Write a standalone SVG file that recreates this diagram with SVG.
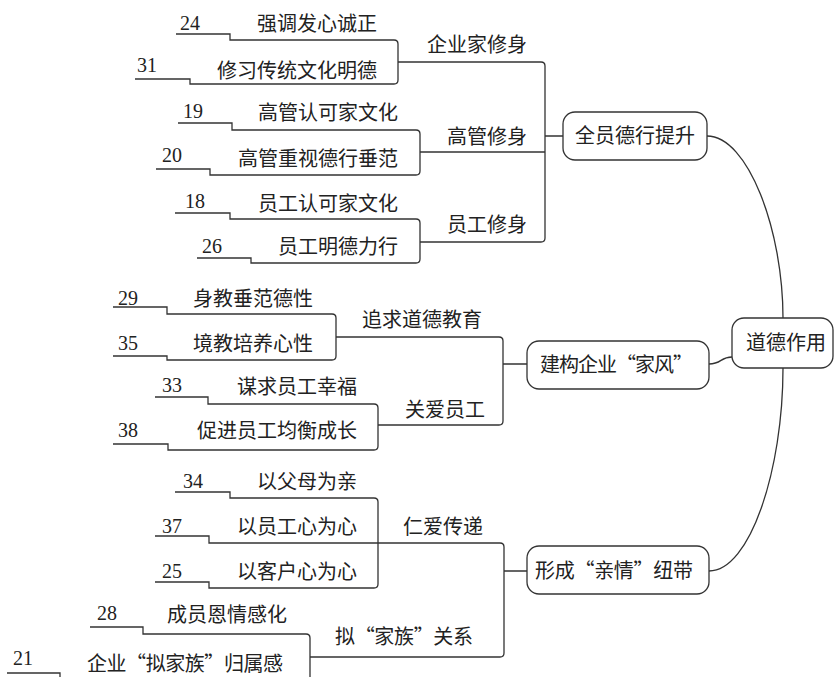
<svg xmlns="http://www.w3.org/2000/svg" width="835" height="677" viewBox="0 0 835 677">
<style>
.ln{fill:none;stroke:#333;stroke-width:1.3}
.bx{fill:#fff;stroke:#333;stroke-width:1.3}
.n{font-family:"Liberation Serif","Noto Sans CJK SC",serif;font-size:20px;fill:#222}
.t{font-family:"Noto Sans CJK SC","Liberation Serif",sans-serif;font-size:20px;fill:#222}
.e{text-anchor:end}
.m{text-anchor:middle}
</style>
<rect width="835" height="677" fill="#fff"/>
<g id="connectors">
<path class="ln" d="M176,34 H230 V40 H394 Q398,40 398,44 V80 Q398,84 394,84 H190 V79 H135"/>
<path class="ln" d="M398,62 H541 Q545,62 545,66 V238 Q545,242 541,242 H420"/>
<path class="ln" d="M420,152 H545 M545,136 H563"/>
<path class="ln" d="M178,123 H232 V130 H416 Q420,130 420,134 V171 Q420,175 416,175 H210 V169 H156"/>
<path class="ln" d="M175,213 H230 V219 H416 Q420,219 420,223 V259 Q420,263 416,263 H251 V258 H197"/>
<path class="ln" d="M113,307 H167 V314 H332 Q336,314 336,318 V356 Q336,360 332,360 H167 V356 H113"/>
<path class="ln" d="M336,337 H499 Q503,337 503,341 V421 Q503,425 499,425 H378 M503,364 H527"/>
<path class="ln" d="M155,397 H208 V404 H374 Q378,404 378,408 V446 Q378,450 374,450 H168 V444 H113"/>
<path class="ln" d="M175,492 H230 V498 H374 Q378,498 378,502 V584 Q378,588 374,588 H209 V582 H155"/>
<path class="ln" d="M155,536 H209 V543 H500 Q504,543 504,547 V653 Q504,657 500,657 H310 M504,571 H527"/>
<path class="ln" d="M90,627 H143 V634 H306 Q310,634 310,638 V680 M7,673 H60 V680"/>
<path class="ln" d="M707,136 C748,136 783,230 783,318"/>
<path class="ln" d="M709,364 C722,364 720,357 732,357"/>
<path class="ln" d="M709,571 C750,571 783,470 783,368"/>
</g>
<g id="n-root"><rect class="bx" x="732" y="318" width="101" height="50" rx="12"/><text class="t m" x="786" y="350">道德作用</text></g>
<g id="n-quanyuan"><rect class="bx" x="563" y="112" width="144" height="48" rx="12"/><text class="t m" x="635" y="143">全员德行提升</text></g>
<g id="n-jiafeng"><rect class="bx" x="527" y="341" width="182" height="48" rx="12"/><text class="t" x="540" y="372" textLength="153" lengthAdjust="spacing">建构企业“家风”</text></g>
<g id="n-qinqing"><rect class="bx" x="527" y="546" width="182" height="48" rx="12"/><text class="t" x="535" y="578" textLength="158" lengthAdjust="spacing">形成“亲情”纽带</text></g>
<g id="n-qiyejia"><text class="t" x="427" y="52">企业家修身</text></g>
<g id="n-gaoguan"><text class="t" x="447" y="144">高管修身</text></g>
<g id="n-yuangong"><text class="t" x="447" y="232">员工修身</text></g>
<g id="n-zhuiqiu"><text class="t" x="362" y="327">追求道德教育</text></g>
<g id="n-guanai"><text class="t" x="405" y="417">关爱员工</text></g>
<g id="n-renai"><text class="t" x="403" y="534">仁爱传递</text></g>
<g id="n-nijiazu"><text class="t" x="335" y="644" textLength="138" lengthAdjust="spacing">拟“家族”关系</text></g>
<g id="n-24"><text class="n" x="180" y="30">24</text><text class="t e" x="377" y="31">强调发心诚正</text></g>
<g id="n-31"><text class="n" x="137" y="72">31</text><text class="t e" x="377" y="78">修习传统文化明德</text></g>
<g id="n-19"><text class="n" x="183" y="118">19</text><text class="t e" x="398" y="120">高管认可家文化</text></g>
<g id="n-20"><text class="n" x="162" y="162">20</text><text class="t e" x="398" y="166">高管重视德行垂范</text></g>
<g id="n-18"><text class="n" x="185" y="208">18</text><text class="t e" x="398" y="211">员工认可家文化</text></g>
<g id="n-26"><text class="n" x="202" y="253">26</text><text class="t e" x="398" y="254">员工明德力行</text></g>
<g id="n-29"><text class="n" x="118" y="305">29</text><text class="t e" x="313" y="306">身教垂范德性</text></g>
<g id="n-35"><text class="n" x="118" y="350">35</text><text class="t e" x="313" y="351">境教培养心性</text></g>
<g id="n-33"><text class="n" x="162" y="392">33</text><text class="t e" x="357" y="394">谋求员工幸福</text></g>
<g id="n-38"><text class="n" x="118" y="437">38</text><text class="t e" x="357" y="438">促进员工均衡成长</text></g>
<g id="n-34"><text class="n" x="183" y="488">34</text><text class="t e" x="357" y="489">以父母为亲</text></g>
<g id="n-37"><text class="n" x="162" y="533">37</text><text class="t e" x="357" y="534">以员工心为心</text></g>
<g id="n-25"><text class="n" x="162" y="578">25</text><text class="t e" x="357" y="579">以客户心为心</text></g>
<g id="n-28"><text class="n" x="97" y="620">28</text><text class="t e" x="287" y="622">成员恩情感化</text></g>
<g id="n-21"><text class="n" x="13" y="665">21</text><text class="t" x="87" y="671" textLength="196" lengthAdjust="spacing">企业“拟家族”归属感</text></g>
</svg>
